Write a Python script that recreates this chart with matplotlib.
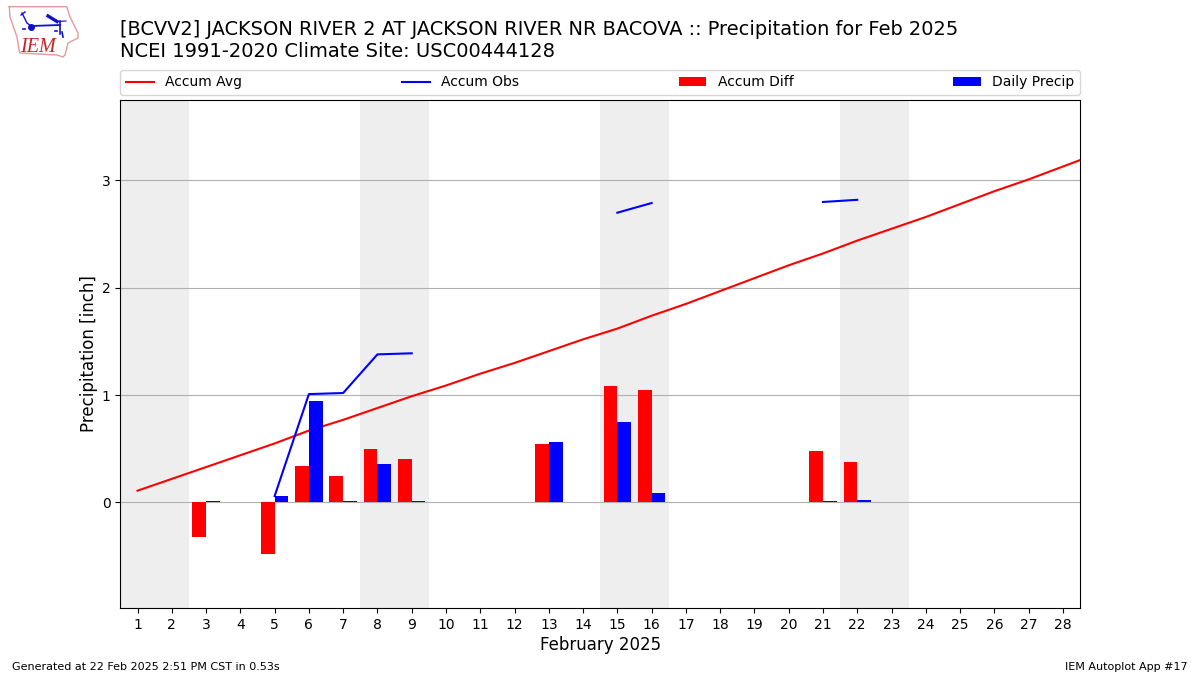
import numpy as np
import matplotlib
matplotlib.use("Agg")
import matplotlib.pyplot as plt

days = np.arange(1, 30)
accum_avg = [0.11, 0.22, 0.33, 0.44, 0.55, 0.67, 0.77, 0.88, 0.99, 1.09,
             1.20, 1.30, 1.41, 1.52, 1.62, 1.74, 1.85, 1.97, 2.09, 2.21,
             2.32, 2.44, 2.55, 2.66, 2.78, 2.90, 3.01, 3.13, 3.25]
nan = np.nan
accum_obs = [nan, nan, nan, nan, 0.06, 1.01, 1.02, 1.38, 1.39, nan,
             nan, nan, nan, nan, 2.70, 2.79, nan, nan, nan, nan,
             2.80, 2.82]
bar_days = [3, 5, 6, 7, 8, 9, 13, 15, 16, 21, 22]
accum_diff = [-0.325, -0.48, 0.34, 0.25, 0.50, 0.405, 0.545, 1.085, 1.05, 0.48, 0.38]
daily_precip = [0.01, 0.06, 0.945, 0.01, 0.36, 0.01, 0.56, 0.75, 0.09, 0.01, 0.02]
weekends = [(0.5, 2.5), (7.5, 9.5), (14.5, 16.5), (21.5, 23.5)]

W, H = 1200, 675
fig = plt.figure(figsize=(12, 6.75), dpi=100)
ax = fig.add_axes([120.4 / W, 1 - 608 / H, 959.6 / W, 508 / H])

for lo, hi in weekends:
    ax.axvspan(lo, hi, color="#eeeeee", lw=0, zorder=0)

ax.plot(days, accum_avg, color="r", lw=1.5, label="Accum Avg", zorder=2)
ax.plot(days[:len(accum_obs)], accum_obs, color="b", lw=1.5, label="Accum Obs", zorder=2)
bd = np.array(bar_days)
ax.bar(bd - 0.2, accum_diff, width=0.4, color="r", label="Accum Diff", zorder=3)
ax.bar(bd + 0.2, daily_precip, width=0.4, color="b", label="Daily Precip", zorder=3)

ax.set_xlim(0.5, 28.5)
ax.set_ylim(-0.983, 3.75)
ax.set_xticks(range(1, 29))
ax.set_yticks([0, 1, 2, 3])
ax.tick_params(labelsize=10)
ax.yaxis.grid(True, zorder=1)
ax.set_axisbelow(True)
ax.set_xlabel("February 2025", fontsize=12, labelpad=3)
ax.set_ylabel("Precipitation [inch]", fontsize=12, labelpad=2.5)

ax.legend(loc="lower left", bbox_to_anchor=(0, 1 + 5 / 508, 1, 0.05), mode="expand",
          ncol=4, borderaxespad=0, fontsize=10)

fig.text(120 / W, 1 - 35 / H, "[BCVV2] JACKSON RIVER 2 AT JACKSON RIVER NR BACOVA :: Precipitation for Feb 2025",
         fontsize=13.95, va="baseline")
fig.text(120 / W, 1 - 57 / H, "NCEI 1991-2020 Climate Site: USC00444128", fontsize=14, va="baseline")
fig.text(12 / W, 1 - 670 / H, "Generated at 22 Feb 2025 2:51 PM CST in 0.53s", fontsize=8, va="baseline")
fig.text(1188 / W, 1 - 670 / H, "IEM Autoplot App #17", fontsize=8, ha="right", va="baseline")

# logo, drawn in pixel coordinates
logo = fig.add_axes([0, 1 - 70 / H, 130 / W, 70 / H])
logo.set_xlim(0, 130)
logo.set_ylim(70, 0)
logo.axis("off")
outline_x = [9.3, 66.7, 70, 78, 78, 68, 65, 63, 57, 20, 19, 17, 10, 9.3]
outline_y = [6.7, 6.7, 17, 33, 38, 43, 55, 57, 55, 53, 50, 37, 17, 6.7]
logo.plot(outline_x, outline_y, color="#e39a9a", lw=1.0)
logo.plot([31, 60], [26, 25], color="#1010d0", lw=1.3)
logo.plot([31], [26.5], "o", color="#1010d0", ms=4)
logo.plot([22, 27, 31], [13, 23, 26], color="#1010d0", lw=1.0)
logo.plot([21, 25], [15, 12], color="#1010d0", lw=1.0)
logo.plot([48, 57], [16, 21.5], color="#1010d0", lw=2.4)
logo.plot([57, 66], [21.5, 21], color="#1010d0", lw=0.8)
logo.plot([60, 60], [21, 34], color="#1010d0", lw=1.2)
logo.plot([62, 63], [32, 37], color="#1010d0", lw=1.2)
logo.plot([23, 25], [29, 29], color="#1010d0", lw=1.2)
logo.plot([55, 57], [31, 31], color="#1010d0", lw=1.2)
logo.text(20.5, 52, "IEM", family="Liberation Serif", style="italic", color="#cc2222", fontsize=14.5, va="baseline")

fig.savefig("out.png", dpi=100)
